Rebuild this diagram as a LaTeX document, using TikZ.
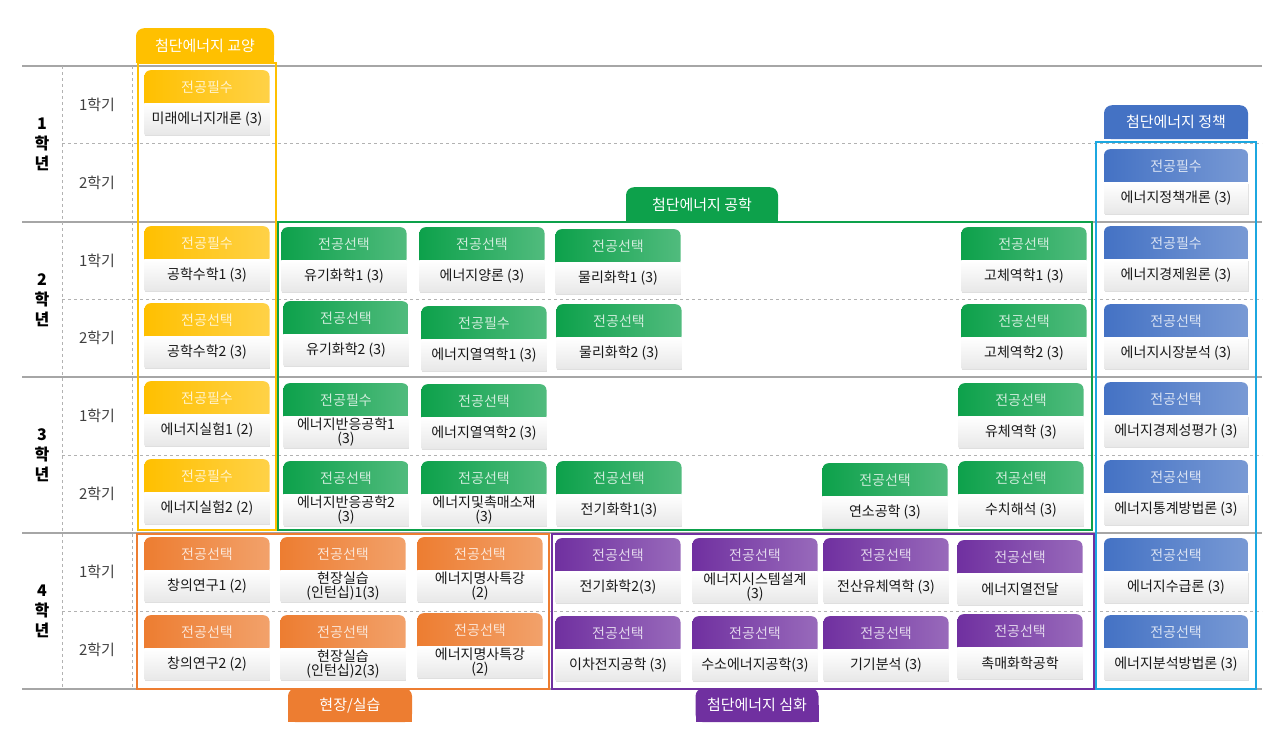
\documentclass[tikz,border=0pt]{standalone}
\usepackage{fontspec}
\setmainfont{Noto Sans CJK KR}
\usetikzlibrary{positioning,shadows}

\definecolor{ygold}{HTML}{FFC000}
\definecolor{egreen}{HTML}{0DA14B}
\definecolor{pblue}{HTML}{4472C4}
\definecolor{pcyan}{HTML}{1CA7E0}
\definecolor{forange}{HTML}{ED7D31}
\definecolor{dpurple}{HTML}{7030A0}
\definecolor{gridgray}{HTML}{A6A6A6}

% one course card: coloured header with the body below it
\newcommand{\course}[7][125]{%
  \node[hdbox,minimum width=#1pt,text=#5!20!white,
    left color=#5,middle color=#5,right color=#5!72!white] (#2h) at (#3,#4) {#6};
  \node[bdbox,minimum width=#1pt,below=-5pt of #2h] (#2) {#7};
}
% group tab: rounded on top, square below
\newcommand{\grouptab}[7]{%
  \fill[#6] ({#2-#4/2},{#3+#5/2}) rectangle ({#2+#4/2},{#3+#5});
  \node[tabbox,minimum width=#4pt,minimum height=#5pt,fill=#6] (#1) at (#2,#3) {#7};
}

\begin{document}
\begin{tikzpicture}[
  x=1pt,y=-1pt,
  hdbox/.style={anchor=north,minimum height=38pt,rounded corners=6pt,inner sep=0pt,
    text depth=5pt,font=\fontsize{14}{15}\selectfont},
  bdbox/.style={minimum height=31pt,inner sep=1pt,align=center,text=black!90,
    top color=white,bottom color=black!9,
    drop shadow={shadow xshift=0.8pt,shadow yshift=-1.6pt,opacity=0.25},
    font=\fontsize{14}{14.5}\selectfont},
  tabbox/.style={anchor=north,rounded corners=8pt,inner sep=0pt,text=white,
    font=\fontsize{15}{16}\selectfont},
  frame/.style={line width=2.8pt},
  gridline/.style={gridgray,line width=1.4pt},
  gridsub/.style={black!30,line width=0.9pt,dashed},
  yearlbl/.style={align=center,font=\fontsize{16}{20}\bfseries\selectfont},
  semlbl/.style={text=black!75,font=\fontsize{15}{16}\selectfont}
]
  \useasboundingbox (0,0) rectangle (1274,750);

  % grid
  \foreach \y in {66,222,377,533,689}
    \draw[gridline] (22,\y) -- (1262,\y);
  \foreach \y in {143,299,455,611}
    \draw[gridsub] (62,\y) -- (1262,\y);
  \foreach \x in {62,132}
    \draw[gridsub] (\x,66) -- (\x,689);

  % years and semesters
  \foreach \n/\y in {1/144,2/300,3/455,4/611}
    \node[yearlbl] (year\n) at (42,\y) {\n\\학\\년};
  \foreach \n/\s/\y in {1/1/104.5,1/2/182.5,2/1/260.5,2/2/338,3/1/416,3/2/494,4/1/572,4/2/650}
    \node[semlbl] (sem\n\s) at (97,\y) {\s{}학기};

  % 교양
  \course{mirae}{207}{70}{ygold}{전공필수}{미래에너지개론 (3)}
  \course{math1}{207}{226}{ygold}{전공필수}{공학수학1 (3)}
  \course{math2}{207}{303}{ygold}{전공선택}{공학수학2 (3)}
  \course{lab1}{207}{381}{ygold}{전공필수}{에너지실험1 (2)}
  \course{lab2}{207}{459}{ygold}{전공필수}{에너지실험2 (2)}

  % 공학
  \course{orgchem1}{344}{227}{egreen}{전공선택}{유기화학1 (3)}
  \course{stoich}{482}{227}{egreen}{전공선택}{에너지양론 (3)}
  \course{physchem1}{618}{229}{egreen}{전공선택}{물리화학1 (3)}
  \course{solid1}{1024}{227}{egreen}{전공선택}{고체역학1 (3)}
  \course{orgchem2}{346}{301}{egreen}{전공선택}{유기화학2 (3)}
  \course{thermo1}{484}{306}{egreen}{전공필수}{에너지열역학1 (3)}
  \course{physchem2}{619}{304}{egreen}{전공선택}{물리화학2 (3)}
  \course{solid2}{1024}{304}{egreen}{전공선택}{고체역학2 (3)}
  \course{react1}{346}{383}{egreen}{전공필수}{에너지반응공학1\\(3)}
  \course{thermo2}{484}{384}{egreen}{전공선택}{에너지열역학2 (3)}
  \course{fluid}{1021}{383}{egreen}{전공선택}{유체역학 (3)}
  \course{react2}{346}{461}{egreen}{전공선택}{에너지반응공학2\\(3)}
  \course{catmat}{484}{461}{egreen}{전공선택}{에너지및촉매소재\\(3)}
  \course{elchem1}{619}{461}{egreen}{전공선택}{전기화학1(3)}
  \course{combust}{885}{463}{egreen}{전공선택}{연소공학 (3)}
  \course{numeric}{1021}{461}{egreen}{전공선택}{수치해석 (3)}

  % 정책
  \course[144]{policy}{1176}{149}{pblue}{전공필수}{에너지정책개론 (3)}
  \course[144]{econ}{1176}{226}{pblue}{전공필수}{에너지경제원론 (3)}
  \course[144]{market}{1176}{304}{pblue}{전공선택}{에너지시장분석 (3)}
  \course[144]{feasib}{1176}{382}{pblue}{전공선택}{에너지경제성평가 (3)}
  \course[144]{stats}{1176}{460}{pblue}{전공선택}{에너지통계방법론 (3)}
  \course[144]{supply}{1176}{538}{pblue}{전공선택}{에너지수급론 (3)}
  \course[144]{analysis}{1176}{615}{pblue}{전공선택}{에너지분석방법론 (3)}

  % 현장/실습
  \course{create1}{207}{537}{forange}{전공선택}{창의연구1 (2)}
  \course{intern1}{343}{537}{forange}{전공선택}{현장실습\\(인턴십)1(3)}
  \course{lecture1}{480}{537}{forange}{전공선택}{에너지명사특강\\(2)}
  \course{create2}{207}{615}{forange}{전공선택}{창의연구2 (2)}
  \course{intern2}{343}{615}{forange}{전공선택}{현장실습\\(인턴십)2(3)}
  \course{lecture2}{480}{613}{forange}{전공선택}{에너지명사특강\\(2)}

  % 심화
  \course{elchem2}{618}{538}{dpurple}{전공선택}{전기화학2(3)}
  \course{sysdes}{755}{538}{dpurple}{전공선택}{에너지시스템설계\\(3)}
  \course{cfd}{886}{538}{dpurple}{전공선택}{전산유체역학 (3)}
  \course{heattr}{1020}{540}{dpurple}{전공선택}{에너지열전달}
  \course{battery}{618}{616}{dpurple}{전공선택}{이차전지공학 (3)}
  \course{hydrogen}{755}{616}{dpurple}{전공선택}{수소에너지공학(3)}
  \course{instr}{886}{616}{dpurple}{전공선택}{기기분석 (3)}
  \course{catalysis}{1020}{614}{dpurple}{전공선택}{촉매화학공학}

  % group frames
  \draw[frame,ygold] (138,63) rectangle (276,530);
  \draw[frame,egreen] (278,222) rectangle (1092,530);
  \draw[frame,pcyan] (1096,142) rectangle (1256,689);
  \draw[frame,forange] (137,534) rectangle (549,689);
  \draw[frame,dpurple] (552,534) rectangle (1094,689);

  % group tabs
  \grouptab{tabgen}{205}{28}{138}{35}{ygold}{첨단에너지 교양}
  \grouptab{tabeng}{702}{187}{152}{35}{egreen}{첨단에너지 공학}
  \grouptab{tabpol}{1176}{105}{144}{34}{pblue}{첨단에너지 정책}
  \grouptab{tabprac}{350}{688}{124}{34}{forange}{현장/실습}
  \grouptab{tabadv}{757}{688}{123}{34}{dpurple}{첨단에너지 심화}
\end{tikzpicture}
\end{document}
